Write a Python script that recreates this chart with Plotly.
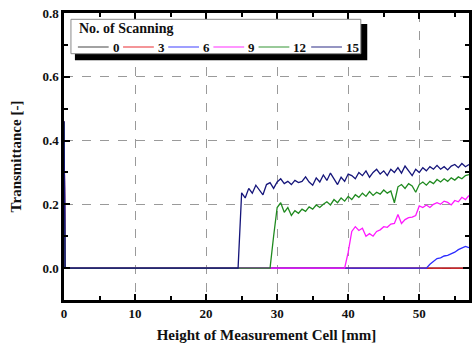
import plotly.graph_objects as go

# Height grid [mm]: the inlet point, a point just after it, then every 0.5 mm up to 57 mm
height_mm = [0.0, 0.15] + [0.5 * i for i in range(1, 115)]

spike = [0.46, 0.0]  # transmittance at the cell bottom (x = 0)

# Transmittance [-] for each number of scanning
t0 = spike + [0.0] * 114
t3 = spike + [0.0] * 114
t6 = spike + [0.0] * 102 + [
    0.012, 0.022, 0.030, 0.032, 0.038, 0.040, 0.045, 0.050, 0.058, 0.062,
    0.068, 0.064,
]
t9 = spike + [0.0] * 79 + [
    0.05, 0.115, 0.130, 0.118, 0.125, 0.100, 0.108, 0.100, 0.115, 0.120,
    0.130, 0.128, 0.138, 0.140, 0.168, 0.140, 0.152, 0.158, 0.160, 0.165,
    0.195, 0.190, 0.198, 0.190, 0.200, 0.205, 0.200, 0.210, 0.206, 0.198,
    0.212, 0.208, 0.222, 0.215, 0.228,
]
t12 = spike + [0.0] * 58 + [
    0.10,
    0.190, 0.205, 0.175, 0.190, 0.165, 0.180, 0.172, 0.185, 0.178, 0.192,
    0.185, 0.198, 0.190, 0.200, 0.208, 0.198, 0.215, 0.205, 0.220, 0.210,
    0.225, 0.215, 0.230, 0.222, 0.235, 0.225, 0.240, 0.228, 0.238, 0.232,
    0.245, 0.235, 0.242, 0.205, 0.255, 0.262, 0.250, 0.265, 0.258, 0.238,
    0.262, 0.270, 0.260, 0.272, 0.265, 0.278, 0.270, 0.280, 0.272, 0.283,
    0.276, 0.286, 0.280, 0.290, 0.293,
]
t15 = spike + [0.0] * 49 + [
    0.236, 0.220, 0.250, 0.235, 0.260, 0.245, 0.230, 0.262, 0.268, 0.250,
    0.270, 0.280, 0.265, 0.272, 0.262, 0.275, 0.268, 0.272, 0.286, 0.270,
    0.260, 0.283, 0.270, 0.292, 0.275, 0.298, 0.280, 0.262, 0.285, 0.272,
    0.295, 0.290, 0.280, 0.300, 0.290, 0.305, 0.285, 0.300, 0.310, 0.295,
    0.305, 0.290, 0.310, 0.300, 0.315, 0.298, 0.320, 0.305, 0.290, 0.310,
    0.300, 0.315, 0.305, 0.318, 0.310, 0.322, 0.310, 0.318, 0.308, 0.320,
    0.325, 0.315, 0.328, 0.318, 0.325,
]

series_names = ["0", "3", "6", "9", "12", "15"]
series_values = [t0, t3, t6, t9, t12, t15]
series_colors = ["#333333", "#e8161b", "#2b2bff", "#ff19ff", "#1f8a1f", "#15157a"]

FONT = "Liberation Serif"
W, H = 475, 346
M = dict(l=64, r=3, t=13, b=46)
PW, PH = W - M["l"] - M["r"], H - M["t"] - M["b"]


def px_x(p):
    """pixel column -> paper x"""
    return (p - M["l"]) / PW


def px_y(p):
    """pixel row -> paper y"""
    return 1 - (p - M["t"]) / PH


fig = go.Figure()
for name, vals, col in zip(series_names, series_values, series_colors):
    fig.add_trace(go.Scatter(
        x=height_mm[:len(vals)], y=vals, name=name, mode="lines",
        line=dict(color=col, width=1.3), showlegend=False,
    ))

axis_common = dict(
    showline=True, linecolor="black", linewidth=2.5, mirror="allticks",
    ticks="inside", ticklen=6, tickwidth=2, tickcolor="black",
    showgrid=True, gridcolor="#9a9a9a", griddash="dash", gridwidth=1,
    zeroline=False,
    tickfont=dict(family=FONT, size=13, color="#111", weight="bold"),
)

fig.update_xaxes(
    range=[0, 57], dtick=10, tick0=0,
    minor=dict(dtick=5, ticks="inside", ticklen=4, tickwidth=2, tickcolor="black", showgrid=False),
    title=dict(text="Height of Measurement Cell [mm]", standoff=10,
               font=dict(family=FONT, size=15, color="#111", weight="bold")),
    **axis_common,
)
fig.update_yaxes(
    range=[-0.1, 0.8], dtick=0.2, tick0=0, tickformat=".1f",
    minor=dict(dtick=0.1, ticks="inside", ticklen=4, tickwidth=2, tickcolor="black", showgrid=False),
    title=dict(text="Transmittance [-]", standoff=18,
               font=dict(family=FONT, size=15, color="#111", weight="bold")),
    **axis_common,
)

# Legend box: black drop shadow, white framed panel, title and one row of entries
fig.add_shape(type="rect", xref="paper", yref="paper",
              x0=px_x(75), x1=px_x(369.5), y0=px_y(60.3), y1=px_y(24),
              fillcolor="black", line=dict(width=0), layer="above")
fig.add_shape(type="rect", xref="paper", yref="paper",
              x0=px_x(71), x1=px_x(363), y0=px_y(53.7), y1=px_y(19.3),
              fillcolor="white", line=dict(color="#8a8a8a", width=1), layer="above")
fig.add_annotation(
    text="No. of Scanning", xref="paper", yref="paper",
    x=px_x(77), y=px_y(29), xanchor="left", yanchor="middle", showarrow=False,
    font=dict(family=FONT, size=14, color="#111", weight="bold"),
)

row_y = px_y(47)
cursor = 78.0          # pixel column where the first sample line starts
LINE_LEN, GAP_TXT, GAP_NEXT, DIGIT_W = 31, 2, 5, 7.5
for name, col in zip(series_names, series_colors):
    fig.add_shape(type="line", xref="paper", yref="paper",
                  x0=px_x(cursor), x1=px_x(cursor + LINE_LEN), y0=row_y, y1=row_y,
                  line=dict(color=col, width=1.5), opacity=0.6, layer="above")
    label_x = cursor + LINE_LEN + GAP_TXT
    fig.add_annotation(
        text=name, xref="paper", yref="paper", x=px_x(label_x), y=row_y,
        xanchor="left", yanchor="middle", showarrow=False,
        font=dict(family=FONT, size=13, color="#111", weight="bold"),
    )
    cursor = label_x + DIGIT_W * len(name) + GAP_NEXT

fig.update_layout(
    width=W, height=H, margin=M,
    paper_bgcolor="white", plot_bgcolor="white",
    showlegend=False,
)

fig.write_html("out.html")
